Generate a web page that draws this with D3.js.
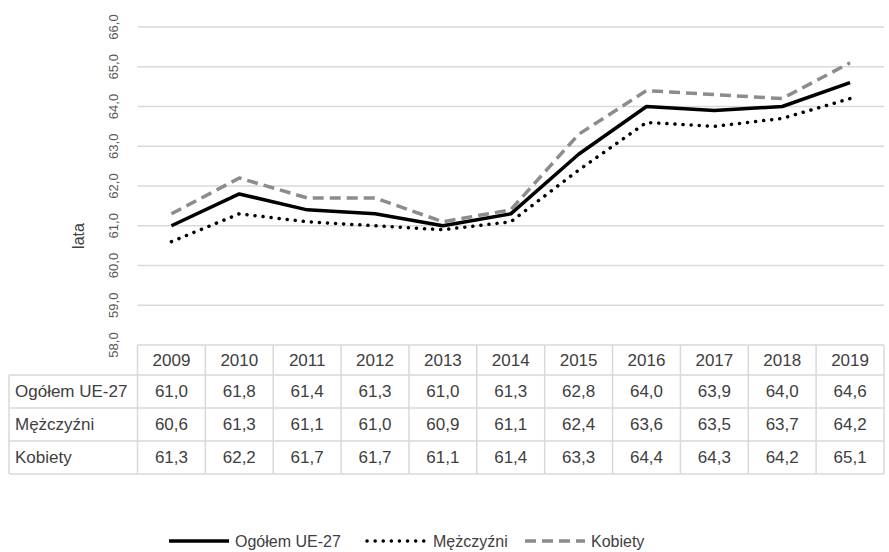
<!DOCTYPE html>
<html>
<head>
<meta charset="utf-8">
<script src="https://cdn.jsdelivr.net/npm/d3@7"></script>
<style>
  body { margin: 0; background: #fff; }
  svg { font-family: "Liberation Sans", Arial, sans-serif; }
</style>
</head>
<body>
<div id="chart"></div>
<script>
const YEARS = ['2009', '2010', '2011', '2012', '2013', '2014', '2015', '2016', '2017', '2018', '2019'];
const OGOLEM = [61.0, 61.8, 61.4, 61.3, 61.0, 61.3, 62.8, 64.0, 63.9, 64.0, 64.6];
const MEZCZYZNI = [60.6, 61.3, 61.1, 61.0, 60.9, 61.1, 62.4, 63.6, 63.5, 63.7, 64.2];
const KOBIETY = [61.3, 62.2, 61.7, 61.7, 61.1, 61.4, 63.3, 64.4, 64.3, 64.2, 65.1];
const Y_TICKS = [58, 59, 60, 61, 62, 63, 64, 65, 66];
const Y_LABEL = 'lata';

const SERIES = [
  {name: 'Ogółem UE-27', values: OGOLEM, colour: '#000000', dash: null, width: 3.5, cap: 'butt'},
  {name: 'Mężczyźni', values: MEZCZYZNI, colour: '#000000', dash: '0.1 8', width: 3.5, cap: 'round'},
  {name: 'Kobiety', values: KOBIETY, colour: '#8c8c8c', dash: '11 6', width: 3.5, cap: 'butt'},
];

const WIDTH = 889;
const HEIGHT = 552;
const GRID = '#d9d9d9';
const TEXT = '#404040';
const FONT = '17px';

const plot = {left: 137.5, right: 884, top: 27, bottom: 345};
const table = {left: 9, header: 30, row: 33};
const fmt = d => d.toFixed(1).replace('.', ',');

const svg = d3.select('#chart').append('svg')
  .attr('width', WIDTH)
  .attr('height', HEIGHT);

const x = d3.scaleBand()
  .domain(YEARS)
  .range([plot.left, plot.right]);

const y = d3.scaleLinear()
  .domain([58, 66])
  .range([plot.bottom, plot.top]);

// gridlines
svg.append('g')
  .selectAll('line')
  .data(Y_TICKS.slice(1))
  .join('line')
  .attr('x1', plot.left)
  .attr('x2', plot.right)
  .attr('y1', d => y(d))
  .attr('y2', d => y(d))
  .attr('stroke', GRID)
  .attr('stroke-width', 1.5);

// y tick labels (rotated)
svg.append('g')
  .selectAll('text')
  .data(Y_TICKS)
  .join('text')
  .attr('transform', d => `translate(118, ${y(d)}) rotate(-90)`)
  .attr('text-anchor', 'middle')
  .attr('font-size', '13px')
  .attr('fill', '#595959')
  .text(fmt);

svg.append('text')
  .attr('transform', 'translate(84, 236) rotate(-90)')
  .attr('text-anchor', 'middle')
  .attr('font-size', '16px')
  .attr('fill', TEXT)
  .text(Y_LABEL);

// lines
const cx = d => x(d) + x.bandwidth() / 2;

SERIES.forEach(s => {
  const line = d3.line()
    .x((d, i) => cx(YEARS[i]))
    .y(d => y(d));

  svg.append('path')
    .datum(s.values)
    .attr('fill', 'none')
    .attr('stroke', s.colour)
    .attr('stroke-width', s.width)
    .attr('stroke-linejoin', 'round')
    .attr('stroke-linecap', s.cap)
    .attr('stroke-dasharray', s.dash)
    .attr('d', line);
});

// data table
const tableTop = plot.bottom;
const rowTop = i => tableTop + table.header + i * table.row;
const tableBottom = rowTop(SERIES.length);

const tg = svg.append('g')
  .attr('stroke', GRID)
  .attr('stroke-width', 1.5);

tg.append('line')
  .attr('x1', plot.left).attr('x2', plot.right)
  .attr('y1', tableTop).attr('y2', tableTop);

SERIES.forEach((s, i) => {
  tg.append('line')
    .attr('x1', table.left).attr('x2', plot.right)
    .attr('y1', rowTop(i)).attr('y2', rowTop(i));
});

tg.append('line')
  .attr('x1', table.left).attr('x2', plot.right)
  .attr('y1', tableBottom).attr('y2', tableBottom);

tg.append('line')
  .attr('x1', table.left).attr('x2', table.left)
  .attr('y1', rowTop(0)).attr('y2', tableBottom);

tg.selectAll('.vline')
  .data([...YEARS.map(d => x(d)), plot.right])
  .join('line')
  .attr('class', 'vline')
  .attr('x1', d => d).attr('x2', d => d)
  .attr('y1', tableTop).attr('y2', tableBottom);

svg.append('g')
  .selectAll('text')
  .data(YEARS)
  .join('text')
  .attr('x', cx)
  .attr('y', tableTop + table.header / 2)
  .attr('dy', '0.35em')
  .attr('text-anchor', 'middle')
  .attr('font-size', FONT)
  .attr('fill', TEXT)
  .text(d => d);

SERIES.forEach((s, i) => {
  const row = svg.append('g');
  const mid = rowTop(i) + table.row / 2;

  row.append('text')
    .attr('x', table.left + 6)
    .attr('y', mid)
    .attr('dy', '0.35em')
    .attr('font-size', FONT)
    .attr('fill', TEXT)
    .text(s.name);

  row.selectAll('.val')
    .data(s.values)
    .join('text')
    .attr('class', 'val')
    .attr('x', (d, j) => cx(YEARS[j]))
    .attr('y', mid)
    .attr('dy', '0.35em')
    .attr('text-anchor', 'middle')
    .attr('font-size', FONT)
    .attr('fill', TEXT)
    .text(fmt);
});

// legend
const legendX = [169, 367, 525];
const legendY = 541;

SERIES.forEach((s, i) => {
  const g = svg.append('g')
    .attr('transform', `translate(${legendX[i]}, ${legendY})`);

  g.append('line')
    .attr('x1', 0).attr('x2', 60)
    .attr('stroke', s.colour)
    .attr('stroke-width', s.width)
    .attr('stroke-linecap', s.cap)
    .attr('stroke-dasharray', s.dash);

  g.append('text')
    .attr('x', 66)
    .attr('dy', '0.35em')
    .attr('font-size', '16px')
    .attr('fill', TEXT)
    .text(s.name);
});
</script>
</body>
</html>
